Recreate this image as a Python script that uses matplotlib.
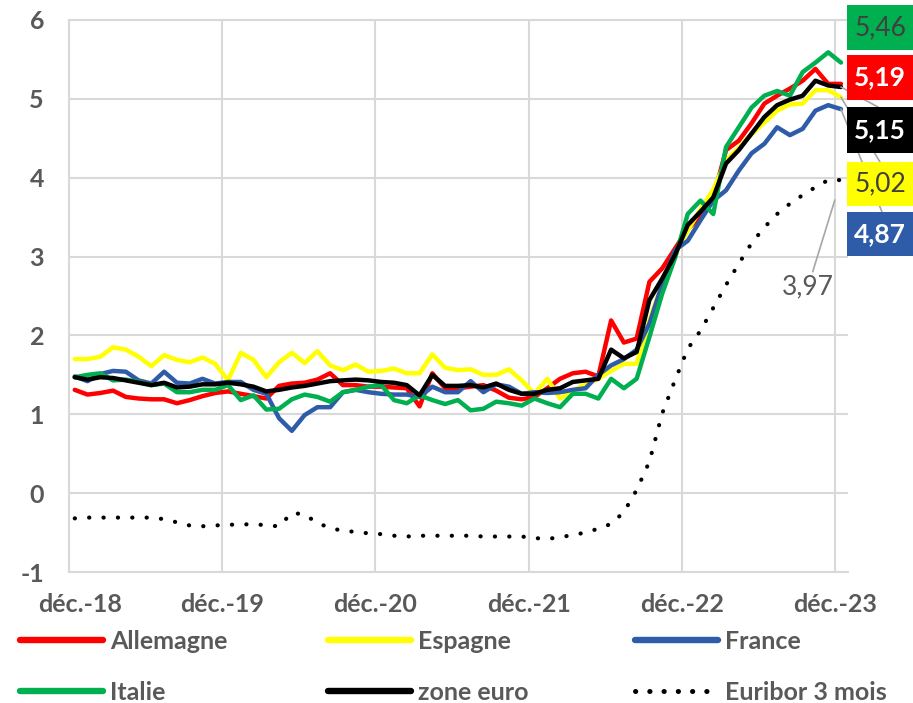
import numpy as np
import matplotlib.pyplot as plt
from matplotlib.lines import Line2D
from matplotlib.patches import Rectangle
from matplotlib.transforms import ScaledTranslation

plt.rcParams['font.family'] = ['Lato', 'DejaVu Sans']
plt.rcParams['axes.unicode_minus'] = False

tick_labels = ["déc.-18", "déc.-19", "déc.-20", "déc.-21", "déc.-22", "déc.-23"]

allemagne = [1.31, 1.25, 1.27, 1.30, 1.22, 1.20, 1.19, 1.19, 1.14, 1.18, 1.23, 1.27,
             1.29, 1.26, 1.23, 1.20, 1.36, 1.39, 1.40, 1.44, 1.52, 1.37, 1.37, 1.35,
             1.35, 1.34, 1.33, 1.10, 1.52, 1.33, 1.33, 1.35, 1.37, 1.30, 1.21, 1.19,
             1.22, 1.33, 1.45, 1.52, 1.54, 1.48, 2.19, 1.91, 1.96, 2.68, 2.85, 3.10,
             3.35, 3.50, 3.75, 4.35, 4.47, 4.69, 4.94, 5.04, 5.13, 5.23, 5.38, 5.19,
             5.19]
espagne = [1.70, 1.70, 1.73, 1.85, 1.82, 1.73, 1.61, 1.75, 1.69, 1.66, 1.72, 1.64,
           1.43, 1.78, 1.69, 1.47, 1.66, 1.78, 1.65, 1.80, 1.62, 1.56, 1.63, 1.54,
           1.55, 1.58, 1.52, 1.52, 1.76, 1.59, 1.56, 1.57, 1.50, 1.50, 1.57, 1.43,
           1.26, 1.45, 1.20, 1.30, 1.38, 1.45, 1.55, 1.64, 1.64, 2.19, 2.66, 3.04,
           3.33, 3.60, 3.85, 4.22, 4.38, 4.55, 4.70, 4.85, 4.93, 4.94, 5.11, 5.11,
           5.02]
france = [1.48, 1.42, 1.51, 1.55, 1.54, 1.43, 1.39, 1.54, 1.40, 1.39, 1.45, 1.39,
          1.41, 1.41, 1.31, 1.26, 0.95, 0.79, 0.99, 1.09, 1.09, 1.28, 1.31, 1.28,
          1.26, 1.25, 1.25, 1.22, 1.35, 1.28, 1.28, 1.42, 1.28, 1.38, 1.35, 1.26,
          1.28, 1.27, 1.28, 1.31, 1.33, 1.50, 1.62, 1.70, 1.82, 2.15, 2.65, 3.08,
          3.20, 3.46, 3.71, 3.84, 4.09, 4.31, 4.43, 4.64, 4.54, 4.62, 4.85, 4.92,
          4.87]
italie = [1.47, 1.50, 1.52, 1.43, 1.44, 1.41, 1.37, 1.39, 1.28, 1.28, 1.31, 1.31,
          1.37, 1.18, 1.24, 1.06, 1.07, 1.19, 1.25, 1.22, 1.16, 1.28, 1.31, 1.35,
          1.37, 1.18, 1.14, 1.24, 1.18, 1.13, 1.18, 1.05, 1.07, 1.16, 1.14, 1.11,
          1.20, 1.14, 1.09, 1.26, 1.26, 1.20, 1.45, 1.33, 1.45, 1.98, 2.53, 2.98,
          3.54, 3.71, 3.54, 4.39, 4.64, 4.89, 5.04, 5.10, 5.04, 5.34, 5.46, 5.59,
          5.46]
zone_euro = [1.47, 1.44, 1.47, 1.46, 1.43, 1.40, 1.37, 1.40, 1.34, 1.35, 1.38, 1.38,
             1.40, 1.38, 1.35, 1.29, 1.31, 1.34, 1.36, 1.39, 1.42, 1.43, 1.44, 1.43,
             1.41, 1.40, 1.37, 1.24, 1.50, 1.36, 1.36, 1.37, 1.34, 1.39, 1.31, 1.26,
             1.26, 1.31, 1.33, 1.41, 1.43, 1.45, 1.82, 1.71, 1.79, 2.45, 2.72, 3.02,
             3.40, 3.57, 3.75, 4.18, 4.35, 4.56, 4.77, 4.92, 4.99, 5.04, 5.23, 5.17,
             5.15]
euribor = [-0.32, -0.31, -0.31, -0.31, -0.31, -0.31, -0.31, -0.33, -0.37, -0.41, -0.42, -0.41,
           -0.40, -0.40, -0.39, -0.41, -0.42, -0.25, -0.27, -0.38, -0.44, -0.48, -0.49, -0.51,
           -0.52, -0.54, -0.55, -0.54, -0.54, -0.54, -0.54, -0.54, -0.55, -0.55, -0.55, -0.55,
           -0.57, -0.58, -0.56, -0.53, -0.50, -0.45, -0.39, -0.24, 0.04, 0.40, 1.01, 1.43,
           1.83, 2.06, 2.35, 2.64, 2.91, 3.17, 3.37, 3.54, 3.67, 3.78, 3.88, 3.97,
           3.97]

series = [
    ("Allemagne", allemagne, "#FF0000"),
    ("Espagne", espagne, "#FFFF00"),
    ("France", france, "#2E5CA8"),
    ("Italie", italie, "#00B050"),
    ("zone euro", zone_euro, "#000000"),
]

W, H = 913, 703
GRID = "#D9D9D9"
TXT = "#595959"

n = len(euribor)
x = np.arange(n) + 0.45

fig = plt.figure(figsize=(W / 100, H / 100), dpi=100)
ax = fig.add_axes([69 / W, 1 - 572 / H, (848 - 69) / W, (572 - 20) / H])

lines = {}
eur_line, = ax.plot(x, euribor, color="black", lw=3.0,
                    linestyle=(0, (0.05, 3.4)), dash_capstyle="round")
lines["Euribor 3 mois"] = eur_line
for name, vals, col in series:
    ln, = ax.plot(x, vals, color=col, lw=3.2, solid_capstyle="round")
    lines[name] = ln

ax.set_xlim(0, 61)
ax.set_ylim(-1, 6)
ax.set_xticks(np.arange(0, 61, 12))
ax.set_xticklabels(tick_labels)
ax.set_yticks(range(-1, 7))
ax.grid(True, color=GRID, lw=1.5)
ax.set_axisbelow(True)
for side in ["left", "bottom", "top"]:
    ax.spines[side].set_color(GRID)
    ax.spines[side].set_linewidth(1.5)
ax.spines["right"].set_visible(False)
ax.tick_params(length=0, labelsize=18, labelcolor=TXT)
ax.tick_params(axis="x", pad=15)
ax.tick_params(axis="y", pad=18)
for lab in ax.get_xticklabels() + ax.get_yticklabels():
    lab.set_fontweight("bold")
first = ax.get_xticklabels()[0]
first.set_transform(first.get_transform() + ScaledTranslation(11 / 100, 0, fig.dpi_scale_trans))

# value boxes at the right
boxes = [
    (italie, "#00B050", "#404040", 5, 50, None),
    (allemagne, "#FF0000", "white", 55, 100, None),
    (zone_euro, "#000000", "white", 107, 153, (878, 107)),
    (espagne, "#FFFF00", "#404040", 162, 206, (880, 162)),
    (france, "#2E5CA8", "white", 212, 256, (882, 212)),
]
for vals, face, tcol, top, bot, anchor in boxes:
    fig.add_artist(Rectangle((847 / W, 1 - bot / H), 70 / W, (bot - top) / H,
                             transform=fig.transFigure, facecolor=face,
                             edgecolor="none"))
    weight = "bold" if tcol == "white" else "normal"
    fig.text(880 / W, 1 - (top + bot) / 2 / H, f"{vals[-1]:.2f}".replace(".", ","),
             ha="center", va="center", fontsize=19, color=tcol, fontweight=weight)
    if anchor:
        ax.annotate("", xy=(x[-1], vals[-1]),
                    xytext=(anchor[0] / W, 1 - anchor[1] / H),
                    textcoords="figure fraction", annotation_clip=False,
                    arrowprops=dict(arrowstyle="-", color="#A6A6A6", lw=1.2,
                                    shrinkA=0, shrinkB=0))

ax.annotate(f"{euribor[-1]:.2f}".replace(".", ","), xy=(x[-1], euribor[-1]),
            xytext=(808 / W, 1 - 287 / H), textcoords="figure fraction",
            ha="center", va="center", fontsize=19, color=TXT,
            annotation_clip=False,
            arrowprops=dict(arrowstyle="-", color="#A6A6A6", lw=1.2,
                            shrinkA=0, shrinkB=15))

# legend: three columns of two entries
columns = [(20, ["Allemagne", "Italie"]),
           (328, ["Espagne", "zone euro"]),
           (635, ["France", "Euribor 3 mois"])]
for px, names in columns:
    handles = []
    for nm in names:
        if nm == "Euribor 3 mois":
            h = Line2D([], [], color="black", lw=3.6, linestyle=(0, (0.05, 2.8)),
                       dash_capstyle="round")
        else:
            h = Line2D([], [], color=lines[nm].get_color(), lw=4.6,
                       solid_capstyle="round")
        handles.append(h)
    leg = fig.legend(handles, names, loc="upper left",
                     bbox_to_anchor=(px / W, 1 - 630 / H), frameon=False,
                     fontsize=18, handlelength=3.3, handletextpad=0.3,
                     labelspacing=1.12, borderpad=0, borderaxespad=0)
    for t in leg.get_texts():
        t.set_color(TXT)
        t.set_fontweight("bold")

fig.savefig("out.png", dpi=100)
